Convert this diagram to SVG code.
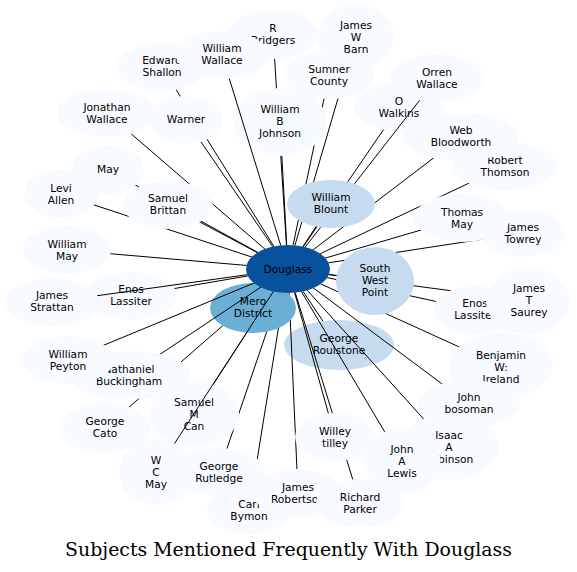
<svg xmlns="http://www.w3.org/2000/svg" xmlns:xlink="http://www.w3.org/1999/xlink" width="577" height="572" viewBox="0 0 577 572">
<style>
.node text{font-family:"DejaVu Sans",Verdana,sans-serif;font-size:10.67px;fill:#000;text-anchor:middle}
.light{fill:#f7fbff}
.pale{fill:#c6dbef}
.mid{fill:#6baed6}
.dark{fill:#08519c}
.edges line{stroke:#000;stroke-width:1;fill:none}
.title{font-family:"DejaVu Serif",serif;font-size:18.9px;text-anchor:middle;fill:#000}
</style>
<defs>
<g id="mA">
<use href="#e-douglass"/><use href="#e-swp"/><use href="#e-wblount"/><use href="#e-rbridgers"/><use href="#e-jwbarn"/><use href="#e-eshallon"/><use href="#e-wwallace"/><use href="#e-sumner"/><use href="#e-orren"/><use href="#e-jwallace"/><use href="#e-warner"/><use href="#e-webb"/><use href="#e-rthomson"/><use href="#e-may"/><use href="#e-levi"/><use href="#e-sbrittan"/><use href="#e-tmay"/><use href="#e-jtowrey"/><use href="#e-wmay"/><use href="#e-strattan"/><use href="#e-enosr"/><use href="#e-jtsaurey"/><use href="#e-wpeyton"/><use href="#e-nbuck"/><use href="#e-bireland"/><use href="#e-jbosoman"/><use href="#e-gcato"/><use href="#e-irobinson"/><use href="#e-wtilley"/><use href="#e-jalewis"/><use href="#e-wcmay"/><use href="#e-grutledge"/><use href="#e-jrobertson"/><use href="#e-rparker"/><use href="#e-cbymon"/>
</g>
<mask id="m-all" maskUnits="userSpaceOnUse" x="0" y="0" width="577" height="572"><rect width="577" height="572" fill="#fff"/><g fill="#000"><use href="#mA"/><use href="#e-owalkins"/><use href="#e-wbjohnson"/><use href="#e-enosl"/><use href="#e-mero"/><use href="#e-smcan"/><use href="#e-groul"/></g></mask>
<mask id="m-orren" maskUnits="userSpaceOnUse" x="0" y="0" width="577" height="572"><rect width="577" height="572" fill="#fff"/><g fill="#000"><use href="#mA"/><use href="#e-wbjohnson"/><use href="#e-enosl"/><use href="#e-mero"/><use href="#e-smcan"/><use href="#e-groul"/></g></mask>
<mask id="m-ww" maskUnits="userSpaceOnUse" x="0" y="0" width="577" height="572"><rect width="577" height="572" fill="#fff"/><g fill="#000"><use href="#mA"/><use href="#e-owalkins"/><use href="#e-enosl"/><use href="#e-mero"/><use href="#e-smcan"/><use href="#e-groul"/></g></mask>
<mask id="m-strattan" maskUnits="userSpaceOnUse" x="0" y="0" width="577" height="572"><rect width="577" height="572" fill="#fff"/><g fill="#000"><use href="#mA"/><use href="#e-owalkins"/><use href="#e-wbjohnson"/><use href="#e-mero"/><use href="#e-smcan"/><use href="#e-groul"/></g></mask>
<mask id="m-mero" maskUnits="userSpaceOnUse" x="0" y="0" width="577" height="572"><rect width="577" height="572" fill="#fff"/><g fill="#000"><use href="#mA"/><use href="#e-owalkins"/><use href="#e-wbjohnson"/><use href="#e-enosl"/><use href="#e-smcan"/><use href="#e-groul"/></g></mask>
<mask id="m-wcm" maskUnits="userSpaceOnUse" x="0" y="0" width="577" height="572"><rect width="577" height="572" fill="#fff"/><g fill="#000"><use href="#mA"/><use href="#e-owalkins"/><use href="#e-wbjohnson"/><use href="#e-enosl"/><use href="#e-groul"/></g></mask>
<mask id="m-groul" maskUnits="userSpaceOnUse" x="0" y="0" width="577" height="572"><rect width="577" height="572" fill="#fff"/><g fill="#000"><use href="#mA"/><use href="#e-owalkins"/><use href="#e-wbjohnson"/><use href="#e-enosl"/><use href="#e-mero"/><use href="#e-smcan"/></g></mask>
</defs>
<rect width="577" height="572" fill="#fff"/>
<g id="nodes">
<g id="n-rthomson" class="node light"><ellipse id="e-rthomson" cx="505" cy="166" rx="52" ry="24"/><text><tspan x="505" y="164">Robert</tspan><tspan x="505" y="176">Thomson</tspan></text></g>
<g id="n-webb" class="node light"><ellipse id="e-webb" cx="461" cy="137" rx="58" ry="24"/><text><tspan x="461" y="134">Web</tspan><tspan x="461" y="146">Bloodworth</tspan></text></g>
<g id="n-jwbarn" class="node light"><ellipse id="e-jwbarn" cx="356" cy="37" rx="38" ry="33"/><text><tspan x="356" y="29">James</tspan><tspan x="356" y="41">W</tspan><tspan x="356" y="53">Barn</tspan></text></g>
<g id="n-sumner" class="node light"><ellipse id="e-sumner" cx="329" cy="75" rx="45" ry="24"/><text><tspan x="329" y="73">Sumner</tspan><tspan x="329" y="85">County</tspan></text></g>
<g id="n-owalkins" class="node light"><ellipse id="e-owalkins" cx="399" cy="107" rx="45" ry="24"/><text><tspan x="399" y="104.5">O</tspan><tspan x="399" y="116.5">Walkins</tspan></text></g>
<g id="n-orren" class="node light"><ellipse id="e-orren" cx="437" cy="78" rx="47" ry="24"/><text><tspan x="437" y="75.5">Orren</tspan><tspan x="437" y="87.5">Wallace</tspan></text></g>
<g id="n-rbridgers" class="node light"><ellipse id="e-rbridgers" cx="273" cy="34" rx="45" ry="25"/><text><tspan x="273" y="31.5">R</tspan><tspan x="273" y="43.5">Bridgers</tspan></text></g>
<g id="n-eshallon" class="node light"><ellipse id="e-eshallon" cx="162" cy="67" rx="45" ry="24"/><text><tspan x="162" y="64">Edward</tspan><tspan x="162" y="76">Shallon</tspan></text></g>
<g id="n-wwallace" class="node light"><ellipse id="e-wwallace" cx="222" cy="55" rx="46" ry="24"/><text><tspan x="222" y="52">William</tspan><tspan x="222" y="64">Wallace</tspan></text></g>
<g id="n-wbjohnson" class="node light"><ellipse id="e-wbjohnson" cx="280" cy="122" rx="47" ry="34"/><text><tspan x="280" y="113">William</tspan><tspan x="280" y="125">B</tspan><tspan x="280" y="137">Johnson</tspan></text></g>
<g id="n-jwallace" class="node light"><ellipse id="e-jwallace" cx="107" cy="113" rx="50" ry="24"/><text><tspan x="107" y="111">Jonathan</tspan><tspan x="107" y="123">Wallace</tspan></text></g>
<g id="n-warner" class="node light"><ellipse id="e-warner" cx="186" cy="120" rx="36" ry="24"/><text><tspan x="186" y="123">Warner</tspan></text></g>
<g id="n-may" class="node light"><ellipse id="e-may" cx="108" cy="170" rx="36" ry="24"/><text><tspan x="108" y="173">May</tspan></text></g>
<g id="n-levi" class="node light"><ellipse id="e-levi" cx="61" cy="194" rx="37" ry="24"/><text><tspan x="61" y="192">Levi</tspan><tspan x="61" y="204">Allen</tspan></text></g>
<g id="n-sbrittan" class="node light"><ellipse id="e-sbrittan" cx="168" cy="205" rx="45" ry="24"/><text><tspan x="168" y="202">Samuel</tspan><tspan x="168" y="214">Brittan</tspan></text></g>
<g id="n-wmay" class="node light"><ellipse id="e-wmay" cx="67" cy="250" rx="44" ry="24"/><text><tspan x="67" y="247.5">William</tspan><tspan x="67" y="259.5">May</tspan></text></g>
<g id="n-enosl" class="node light"><ellipse id="e-enosl" cx="131" cy="296" rx="46" ry="24"/><text><tspan x="131" y="293">Enos</tspan><tspan x="131" y="305">Lassiter</tspan></text></g>
<g id="n-strattan" class="node light"><ellipse id="e-strattan" cx="52" cy="302" rx="47" ry="24"/><text><tspan x="52" y="299">James</tspan><tspan x="52" y="311">Strattan</tspan></text></g>
<g id="n-gcato" class="node light"><ellipse id="e-gcato" cx="105" cy="428" rx="45" ry="25"/><text><tspan x="105" y="425">George</tspan><tspan x="105" y="437">Cato</tspan></text></g>
<g id="n-nbuck" class="node light"><ellipse id="e-nbuck" cx="129" cy="375" rx="62" ry="24"/><text><tspan x="129" y="372.5">Nathaniel</tspan><tspan x="129" y="384.5">Buckingham</tspan></text></g>
<g id="n-wpeyton" class="node light"><ellipse id="e-wpeyton" cx="68" cy="360" rx="46" ry="24"/><text><tspan x="68" y="358">William</tspan><tspan x="68" y="370">Peyton</tspan></text></g>
<g id="n-smcan" class="node light"><ellipse id="e-smcan" cx="194" cy="414" rx="45" ry="33"/><text><tspan x="194" y="406">Samuel</tspan><tspan x="194" y="418">M</tspan><tspan x="194" y="430">Can</tspan></text></g>
<g id="n-wcmay" class="node light"><ellipse id="e-wcmay" cx="156" cy="472" rx="37" ry="33"/><text><tspan x="156" y="463.5">W</tspan><tspan x="156" y="475.5">C</tspan><tspan x="156" y="487.5">May</tspan></text></g>
<g id="n-cbymon" class="node light"><ellipse id="e-cbymon" cx="249" cy="510" rx="42" ry="24"/><text><tspan x="249" y="508">Carl</tspan><tspan x="249" y="520">Bymon</tspan></text></g>
<g id="n-grutledge" class="node light"><ellipse id="e-grutledge" cx="219" cy="472" rx="46" ry="24"/><text><tspan x="219" y="470">George</tspan><tspan x="219" y="482">Rutledge</tspan></text></g>
<g id="n-jrobertson" class="node light"><ellipse id="e-jrobertson" cx="298" cy="493" rx="45" ry="24"/><text><tspan x="298" y="490.5">James</tspan><tspan x="298" y="502.5">Robertson</tspan></text></g>
<g id="n-rparker" class="node light"><ellipse id="e-rparker" cx="360" cy="503" rx="44" ry="24"/><text><tspan x="360" y="501">Richard</tspan><tspan x="360" y="513">Parker</tspan></text></g>
<g id="n-wtilley" class="node light"><ellipse id="e-wtilley" cx="335" cy="437" rx="40" ry="24"/><text><tspan x="335" y="434.5">Willey</tspan><tspan x="335" y="446.5">tilley</tspan></text></g>
<g id="n-irobinson" class="node light"><ellipse id="e-irobinson" cx="449" cy="447" rx="49" ry="33"/><text><tspan x="449" y="439">Isaac</tspan><tspan x="449" y="451">A</tspan><tspan x="449" y="463">Robinson</tspan></text></g>
<g id="n-jalewis" class="node light"><ellipse id="e-jalewis" cx="402" cy="461" rx="38.5" ry="33"/><text><tspan x="402" y="452.7">John</tspan><tspan x="402" y="464.7">A</tspan><tspan x="402" y="476.7">Lewis</tspan></text></g>
<g id="n-bireland" class="node light"><ellipse id="e-bireland" cx="501" cy="366" rx="52" ry="33"/><text><tspan x="501" y="358.5">Benjamin</tspan><tspan x="501" y="370.5">W:</tspan><tspan x="501" y="382.5">Ireland</tspan></text></g>
<g id="n-jbosoman" class="node light"><ellipse id="e-jbosoman" cx="469" cy="404" rx="51" ry="24"/><text><tspan x="469" y="401">John</tspan><tspan x="469" y="413">bosoman</tspan></text></g>
<g id="n-enosr" class="node light"><ellipse id="e-enosr" cx="475" cy="310" rx="42" ry="24"/><text><tspan x="475" y="307">Enos</tspan><tspan x="475" y="319">Lassiter</tspan></text></g>
<g id="n-jtsaurey" class="node light"><ellipse id="e-jtsaurey" cx="528" cy="301" rx="42" ry="33"/><text><tspan x="529" y="292">James</tspan><tspan x="529" y="304">T</tspan><tspan x="529" y="316">Saurey</tspan></text></g>
<g id="n-jtowrey" class="node light"><ellipse id="e-jtowrey" cx="523" cy="233" rx="42" ry="24"/><text><tspan x="523" y="230.5">James</tspan><tspan x="523" y="242.5">Towrey</tspan></text></g>
<g id="n-tmay" class="node light"><ellipse id="e-tmay" cx="462" cy="218" rx="48" ry="24"/><text><tspan x="462" y="216">Thomas</tspan><tspan x="462" y="228">May</tspan></text></g>
<g id="n-wblount" class="node pale"><ellipse id="e-wblount" cx="331" cy="204" rx="44" ry="24"/><text><tspan x="331" y="201">William</tspan><tspan x="331" y="213">Blount</tspan></text></g>
<g id="n-groul" class="node pale"><ellipse id="e-groul" cx="339" cy="345" rx="55" ry="25"/><text><tspan x="339" y="342">George</tspan><tspan x="339" y="354">Roulstone</tspan></text></g>
<g id="n-swp" class="node pale"><ellipse id="e-swp" cx="375" cy="281" rx="39" ry="34"/><text><tspan x="375" y="272">South</tspan><tspan x="375" y="284">West</tspan><tspan x="375" y="296">Point</tspan></text></g>
<g id="n-mero" class="node mid"><ellipse id="e-mero" cx="253" cy="308" rx="43" ry="25"/><text><tspan x="253" y="305">Mero</tspan><tspan x="253" y="317">District</tspan></text></g>
<g id="n-douglass" class="node dark"><ellipse id="e-douglass" cx="288" cy="269" rx="42" ry="24"/><text><tspan x="288" y="273">Douglass</tspan></text></g>
</g>
<g id="edges" class="edges">
<g mask="url(#m-all)">
<line x1="505" y1="166" x2="288" y2="269"/>
<line x1="461" y1="137" x2="288" y2="269"/>
<line x1="356" y1="37" x2="288" y2="269"/>
<line x1="329" y1="75" x2="288" y2="269"/>
<line x1="399" y1="107" x2="288" y2="269"/>
<line x1="273" y1="34" x2="288" y2="269"/>
<line x1="280" y1="122" x2="288" y2="269"/>
<line x1="162" y1="67" x2="288" y2="269"/>
<line x1="107" y1="113" x2="288" y2="269"/>
<line x1="186" y1="120" x2="288" y2="269"/>
<line x1="108" y1="170" x2="288" y2="269"/>
<line x1="61" y1="194" x2="288" y2="269"/>
<line x1="168" y1="205" x2="288" y2="269"/>
<line x1="67" y1="250" x2="288" y2="269"/>
<line x1="131" y1="296" x2="288" y2="269"/>
<line x1="105" y1="428" x2="288" y2="269"/>
<line x1="249" y1="510" x2="288" y2="269"/>
<line x1="219" y1="472" x2="288" y2="269"/>
<line x1="253" y1="308" x2="288" y2="269"/>
<line x1="194" y1="414" x2="288" y2="269"/>
<line x1="501" y1="366" x2="288" y2="269"/>
<line x1="475" y1="310" x2="288" y2="269"/>
<line x1="528" y1="301" x2="288" y2="269"/>
<line x1="523" y1="233" x2="288" y2="269"/>
<line x1="462" y1="218" x2="288" y2="269"/>
<line x1="331" y1="204" x2="288" y2="269"/>
<line x1="339" y1="345" x2="288" y2="269"/>
<line x1="375" y1="281" x2="288" y2="269"/>
</g>
<g mask="url(#m-orren)"><line x1="437" y1="78" x2="288" y2="269"/></g>
<g mask="url(#m-ww)"><line x1="222" y1="55" x2="288" y2="269"/></g>
<g mask="url(#m-strattan)"><line x1="52" y1="302" x2="288" y2="269"/></g>
<g mask="url(#m-mero)"><line x1="129" y1="375" x2="288" y2="269"/><line x1="68" y1="360" x2="288" y2="269"/></g>
<g mask="url(#m-wcm)"><line x1="156" y1="472" x2="288" y2="269"/></g>
<g mask="url(#m-groul)">
<line x1="298" y1="493" x2="288" y2="269"/>
<line x1="335" y1="437" x2="288" y2="269"/>
<line x1="360" y1="503" x2="288" y2="269"/>
<line x1="402" y1="461" x2="288" y2="269"/>
<line x1="449" y1="447" x2="288" y2="269"/>
<line x1="469" y1="404" x2="288" y2="269"/>
</g>
</g>
<text class="title" x="288.5" y="556">Subjects Mentioned Frequently With Douglass</text>
</svg>
